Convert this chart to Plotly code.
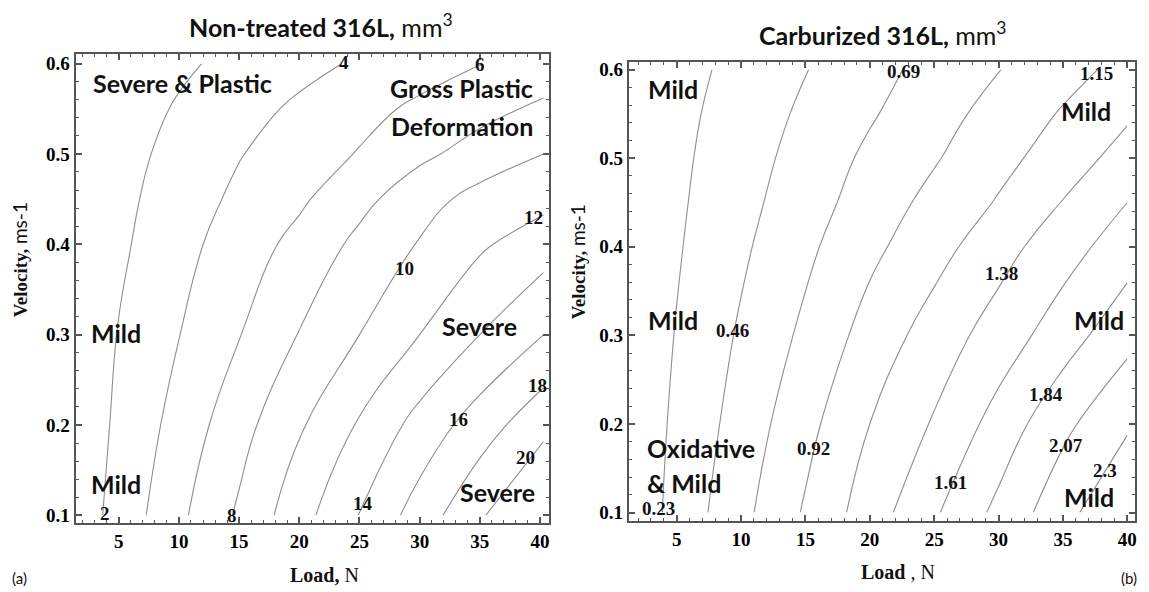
import plotly.graph_objects as go

# ---------------- data ----------------
# Left panel: non-treated 316L wear volume (mm^3) read from contour positions
loads_a = [1.5, 5, 10, 15, 20, 25, 30, 35, 40.3]
vel_a = [0.1, 0.2, 0.3, 0.4, 0.45, 0.5, 0.55, 0.6]
wear_a = [
    [0.90, 2.68, 5.57, 8.30, 11.22, 14.06, 16.91, 19.72, 22.70],
    [0.80, 2.33, 4.73, 7.26, 9.76, 12.21, 14.71, 17.00, 19.40],
    [0.70, 2.08, 3.96, 5.92, 8.08, 10.00, 12.00, 14.00, 16.00],
    [0.45, 1.64, 3.36, 4.95, 6.60, 8.49, 10.13, 11.71, 13.10],
    [0.40, 1.48, 2.98, 4.41, 5.67, 7.42, 9.21, 10.68, 11.40],
    [0.35, 1.30, 2.60, 3.90, 5.00, 6.12, 7.57, 8.80, 10.00],
    [0.28, 1.08, 2.18, 3.27, 4.35, 5.37, 6.38, 7.38, 8.38],
    [0.20, 0.82, 1.68, 2.53, 3.39, 4.25, 5.12, 5.96, 6.80],
]
levels_a = [2, 20, 2]  # start, end, step

# Right panel: carburized 316L
loads_b = [1.3, 5, 10, 15, 20, 25, 30, 35, 40]
vel_b = [0.1, 0.2, 0.3, 0.4, 0.45, 0.5, 0.55, 0.6]
wear_b = [
    [0.060, 0.304, 0.625, 0.946, 1.265, 1.580, 1.899, 2.217, 2.536],
    [0.066, 0.271, 0.554, 0.849, 1.150, 1.402, 1.698, 2.015, 2.266],
    [0.057, 0.241, 0.489, 0.738, 1.008, 1.254, 1.483, 1.730, 2.000],
    [0.051, 0.209, 0.422, 0.641, 0.866, 1.063, 1.291, 1.513, 1.731],
    [0.050, 0.195, 0.390, 0.588, 0.795, 0.986, 1.168, 1.389, 1.610],
    [0.051, 0.183, 0.360, 0.547, 0.736, 0.900, 1.083, 1.255, 1.476],
    [0.043, 0.167, 0.333, 0.500, 0.666, 0.833, 1.001, 1.170, 1.345],
    [0.032, 0.146, 0.299, 0.452, 0.611, 0.765, 0.914, 1.069, 1.220],
]
levels_b = [0.23, 2.31, 0.23]

# contour labels (text, load, velocity)
clabels_a = [("2", 3.85, 0.102), ("8", 14.45, 0.1003), ("4", 23.68, 0.601),
             ("6", 35.0, 0.599), ("10", 28.71, 0.3736), ("12", 39.5, 0.43),
             ("14", 25.26, 0.1132), ("16", 33.2, 0.2066), ("18", 39.8, 0.2432),
             ("20", 38.8, 0.1645)]
clabels_b = [("0.23", 3.62, 0.1045), ("0.46", 9.3, 0.306), ("0.69", 22.6, 0.5977),
             ("0.92", 15.64, 0.1725), ("1.15", 37.6, 0.5959), ("1.38", 30.23, 0.3698),
             ("1.61", 26.3, 0.1344), ("1.84", 33.72, 0.2334), ("2.07", 35.27, 0.1754),
             ("2.3", 38.25, 0.1474)]

# regime texts (text, load, velocity, anchor)
regions_a = [("Severe &amp; Plastic", 2.76, 0.578, "left"),
             ("Gross Plastic", 39.5, 0.5725, "right"),
             ("Deformation", 39.5, 0.531, "right"),
             ("Mild", 2.64, 0.302, "left"),
             ("Mild", 2.60, 0.135, "left"),
             ("Severe", 31.76, 0.31, "left"),
             ("Severe", 33.27, 0.126, "left")]
regions_b = [("Mild", 2.71, 0.5776, "left"),
             ("Mild", 34.76, 0.553, "left"),
             ("Mild", 2.71, 0.3175, "left"),
             ("Oxidative", 2.59, 0.173, "left"),
             ("&amp; Mild", 2.59, 0.1336, "left"),
             ("Mild", 35.8, 0.3175, "left"),
             ("Mild", 35.0, 0.118, "left")]

W, H = 1149, 592
LINE = "#8e8e8e"
FRAME = "#555555"
SERIF = "Liberation Serif"
SANS = "Lato"

fig = go.Figure()


def add_contour(x, y, z, lv, xa, ya):
    fig.add_trace(go.Contour(
        x=x, y=y, z=z, xaxis=xa, yaxis=ya,
        contours=dict(start=lv[0], end=lv[1], size=lv[2], coloring="lines", showlabels=False),
        colorscale=[[0, LINE], [1, LINE]],
        line=dict(width=1.1, smoothing=1.3),
        showscale=False, hoverinfo="skip"))


add_contour(loads_a, vel_a, wear_a, levels_a, "x", "y")
add_contour(loads_b, vel_b, wear_b, levels_b, "x2", "y2")


def px(xp):
    return xp / W


def py(yp):
    return 1 - yp / H


tickfont = dict(family=SERIF, size=19, color="black", weight="bold")
common = dict(showline=True, mirror="ticks", linecolor=FRAME, linewidth=2,
              ticks="inside", ticklen=6, tickwidth=1.5, tickcolor=FRAME,
              showgrid=False, zeroline=False, tickfont=tickfont)
xcommon = dict(common, tick0=0, dtick=5,
               minor=dict(ticks="inside", ticklen=3, dtick=1, tickcolor=FRAME, tickwidth=1))
ycommon = dict(common, tick0=0, dtick=0.1, tickformat=".1f",
               minor=dict(ticks="inside", ticklen=3, dtick=0.02, tickcolor=FRAME, tickwidth=1))

fig.update_layout(
    width=W, height=H, margin=dict(l=0, r=0, t=0, b=0),
    paper_bgcolor="white", plot_bgcolor="white", showlegend=False,
    xaxis=dict(xcommon, domain=[px(75.8), px(550)], range=[1.42, 40.75], anchor="y"),
    yaxis=dict(ycommon, domain=[py(525), py(52)], range=[0.091, 0.611], anchor="x"),
    xaxis2=dict(xcommon, domain=[px(630), px(1137)], range=[1.29, 40.6], anchor="y2"),
    yaxis2=dict(ycommon, domain=[py(523), py(60)], range=[0.09, 0.609], anchor="x2"),
)


def ann(text, x, y, xref, yref, size, family, bold=False, xanchor="center", bg=None, angle=0):
    fig.add_annotation(text=text, x=x, y=y, xref=xref, yref=yref, showarrow=False,
                       xanchor=xanchor, yanchor="middle", textangle=angle,
                       font=dict(family=family, size=size, color="#111111",
                                 weight="bold" if bold else "normal"),
                       bgcolor=bg, borderpad=0)


for (t, lx, vy) in clabels_a:
    ann(t, lx, vy, "x", "y", 19, SERIF, bold=True)
for (t, lx, vy) in clabels_b:
    ann(t, lx, vy, "x2", "y2", 19, SERIF, bold=True)
for (t, lx, vy, a) in regions_a:
    ann(t, lx, vy, "x", "y", 25, SANS, bold=True, xanchor=a)
for (t, lx, vy, a) in regions_b:
    ann(t, lx, vy, "x2", "y2", 25, SANS, bold=True, xanchor=a)

# titles
ann("<b>Non-treated 316L,</b> mm<sup>3</sup>", px(322), py(24), "paper", "paper", 25, SANS)
ann("<b>Carburized 316L,</b> mm<sup>3</sup>", px(884), py(32), "paper", "paper", 25, SANS)

# axis titles
ann("<b>Load,</b> N", px(325), py(577), "paper", "paper", 20, SERIF)
ann("<b>Load</b> , N", px(900), py(574), "paper", "paper", 20, SERIF)
ann("<b>Velocity,</b> <span style='font-family:Lato'>ms-1</span>", px(19), py(259),
    "paper", "paper", 19, SERIF, angle=-90)
ann("<b>Velocity,</b> <span style='font-family:Lato'>ms-1</span>", px(578), py(261),
    "paper", "paper", 19, SERIF, angle=-90)

# panel tags
ann("(a)", px(20), py(580), "paper", "paper", 15, SANS)
ann("(b)", px(1131), py(580), "paper", "paper", 15, SANS)

fig.write_html("out.html", config={"displayModeBar": False},
               post_script="document.body.style.margin='0px';")
